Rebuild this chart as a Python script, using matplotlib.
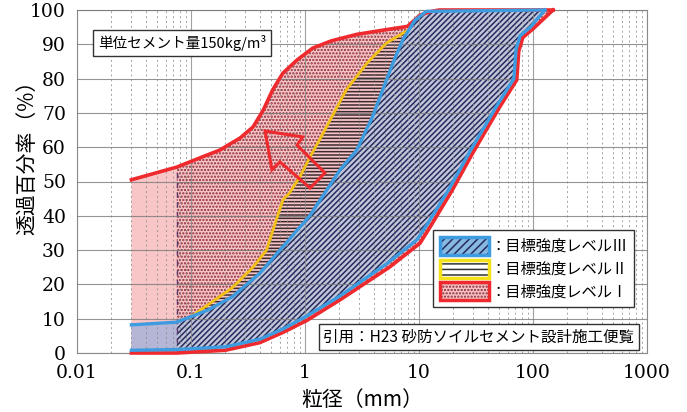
import matplotlib
matplotlib.use("Agg")
import matplotlib.pyplot as plt
import numpy as np
from matplotlib.patches import Patch, Polygon
from matplotlib.legend_handler import HandlerTuple
from matplotlib.ticker import FixedLocator, LogLocator, NullFormatter

plt.rcParams["font.family"] = ["Noto Sans CJK JP", "DejaVu Sans"]
plt.rcParams["hatch.linewidth"] = 1.1

# grading curves (particle size mm, passing %)
red_fine_x = [0.03, 0.075, 0.12, 0.18, 0.27, 0.35, 0.43, 0.52, 0.64, 0.85, 1.17, 1.7, 2.85,
              5.0, 7.9, 10.2, 12.5, 15, 150]
red_fine_y = [50.5, 54.2, 56.9, 59.2, 62.7, 65.9, 70.8, 76.7, 81.6, 85.4, 88.9, 91.0, 92.9,
              94.2, 95.2, 98.5, 99.5, 100, 100]
red_coarse_x = [0.03, 0.075, 0.2, 0.4, 0.64, 1.04, 2.03, 5.5, 10.2, 12.5, 19.6, 29.6, 51,
                72, 75, 81.5, 100, 150]
red_coarse_y = [0, 0, 0.8, 3, 6, 9.5, 15.5, 25, 32, 36.7, 47.5, 58.3, 71.7,
                79.6, 88, 92, 94.5, 100]

blue_fine_x = [0.03, 0.075, 0.14, 0.23, 0.4, 0.64, 1.1, 2.03, 2.85, 3.9, 4.8, 5.9, 7.2,
               9.2, 11.6, 127]
blue_fine_y = [8.2, 9, 12.5, 16.4, 23.2, 31, 40, 53.4, 59.2, 68.8, 76.7, 84.5, 91.3,
               97, 99.6, 100]
blue_coarse_x = [0.03, 0.075, 0.2, 0.4, 0.64, 1.0, 2.0, 5.2, 9.6, 11.8, 18.5, 28, 48,
                 68, 71, 77, 95, 127]
blue_coarse_y = [0.8, 1, 1.8, 4, 7, 10.5, 16.5, 26, 33, 37.5, 48, 58.8, 72,
                 80, 88.5, 92.5, 95, 100]

yellow_x = [0.1, 0.23, 0.35, 0.46, 0.56, 0.64, 0.73, 0.9, 1.1, 1.34, 1.7, 2.3, 3.5, 5.2, 7.9]
yellow_y = [10.6, 19, 25, 30, 38.8, 44.6, 46.6, 51.3, 57, 62.1, 68.5, 76.7, 84.5, 90.4, 94]

fine_limit = 0.075  # 75 um sieve

x_ticks = [0.01, 0.1, 1, 10, 100, 1000]
x_tick_labels = ["0.01", "0.1", "1", "10", "100", "1000"]
y_ticks = list(range(0, 101, 10))
legend_labels = ["：目標強度レベルⅢ", "：目標強度レベルⅡ", "：目標強度レベルⅠ"]

RED = "#ee2a2e"
BLUE = "#3d9be0"
YELLOW = "#f2c014"
NAVY = "#262b5e"
PINK = "#f8c6c6"


def band(fx, fy, cx, cy, xmin=None):
    fx, fy, cx, cy = map(np.asarray, (fx, fy, cx, cy))
    if xmin is not None:
        fm, cm = fx >= xmin, cx >= xmin
        fx, fy, cx, cy = fx[fm], fy[fm], cx[cm], cy[cm]
    xs = np.concatenate([fx, cx[::-1]])
    ys = np.concatenate([fy, cy[::-1]])
    return np.column_stack([xs, ys])


fig = plt.figure(figsize=(6.87, 4.12), dpi=100)
ax = fig.add_axes([77 / 687, 59 / 412, 570 / 687, 343 / 412])
ax.set_xscale("log")
ax.set_xlim(0.01, 1000)
ax.set_ylim(0, 100)

# level I (red)
ax.add_patch(Polygon(band(red_fine_x, red_fine_y, red_coarse_x, red_coarse_y),
                     facecolor=PINK, edgecolor="none", zorder=1))
ax.add_patch(Polygon(band(red_fine_x, red_fine_y, red_coarse_x, red_coarse_y, fine_limit),
                     facecolor="none", edgecolor="#8a2a3a", hatch=".....", lw=0, zorder=1.1))

# level II (yellow) - between yellow line and level III fine boundary
by = np.interp(np.log10(yellow_x[-1]), np.log10(blue_fine_x), blue_fine_y)
bfx, bfy = np.asarray(blue_fine_x), np.asarray(blue_fine_y)
m = (bfx > yellow_x[0]) & (bfx < yellow_x[-1])
ii_x = list(yellow_x) + [yellow_x[-1]] + list(bfx[m][::-1]) + [yellow_x[0]]
ii_y = list(yellow_y) + [by] + list(bfy[m][::-1]) + [yellow_y[0]]
ax.add_patch(Polygon(np.column_stack([ii_x, ii_y]), facecolor=PINK, edgecolor="none", zorder=1.2))
ax.add_patch(Polygon(np.column_stack([ii_x, ii_y]), facecolor="none", edgecolor="#3a2a30",
                     hatch="-----", lw=0, zorder=1.3))

# level III (blue)
ax.add_patch(Polygon(band(blue_fine_x, blue_fine_y, blue_coarse_x, blue_coarse_y),
                     facecolor="#b5b5d6", edgecolor="none", zorder=1.4))
ax.add_patch(Polygon(band(blue_fine_x, blue_fine_y, blue_coarse_x, blue_coarse_y, fine_limit),
                     facecolor="#c2c6da", edgecolor="none", zorder=1.5))
ax.add_patch(Polygon(band(blue_fine_x, blue_fine_y, blue_coarse_x, blue_coarse_y, fine_limit),
                     facecolor="none", edgecolor=NAVY, hatch="//////", lw=0, zorder=1.6))

ax.plot([fine_limit, fine_limit], [0, red_fine_y[1]], color="#5a3a6a", lw=1.0,
        ls=(0, (4, 3)), zorder=1.7)

# boundary lines
ax.plot(red_fine_x, red_fine_y, color=RED, lw=2.6, zorder=4, clip_on=False)
ax.plot(red_coarse_x, red_coarse_y, color=RED, lw=2.6, zorder=4, clip_on=False)
ax.plot(yellow_x, yellow_y, color=YELLOW, lw=2.0, zorder=4.5)
ax.plot(blue_fine_x, blue_fine_y, color=BLUE, lw=2.4, zorder=5, clip_on=False)
ax.plot(blue_coarse_x, blue_coarse_y, color=BLUE, lw=2.4, zorder=5, clip_on=False)

# arrow (hollow)
arrow = [(0.330, 0.647), (0.396, 0.630), (0.386, 0.606), (0.435, 0.525),
         (0.409, 0.481), (0.356, 0.557), (0.342, 0.534)]
ax.add_patch(Polygon(arrow, closed=True, transform=ax.transAxes, facecolor="none",
                     edgecolor=RED, lw=2.2, zorder=6, joinstyle="miter"))

# grid / axes
ax.xaxis.set_major_locator(FixedLocator(x_ticks))
ax.set_xticklabels(x_tick_labels)
ax.xaxis.set_minor_locator(LogLocator(base=10, subs=np.arange(2, 10)))
ax.xaxis.set_minor_formatter(NullFormatter())
ax.set_yticks(y_ticks)
ax.set_axisbelow(False)
ax.grid(axis="y", which="major", color="#7a7a7a", lw=0.8, alpha=0.8)
ax.grid(axis="x", which="major", color="#8a8a8a", lw=0.8, alpha=0.8)
ax.grid(axis="x", which="minor", color="#8a8a8a", lw=0.7, ls=(0, (2, 3)), alpha=0.8)
ax.tick_params(which="both", length=0)
ax.tick_params(axis="x", pad=8)
ax.tick_params(axis="y", pad=8)
for lab in ax.get_xticklabels() + ax.get_yticklabels():
    lab.set_fontfamily("DejaVu Serif")
    lab.set_fontsize(13.5)
for s in ax.spines.values():
    s.set_color("#8a8a8a")
    s.set_linewidth(0.8)

ax.set_xlabel("粒径（mm）", fontsize=15)
ax.xaxis.set_label_coords(0.5, -0.105)
ax.set_ylabel("透過百分率（%）", fontsize=15)
ax.yaxis.set_label_coords(-0.068, 0.585)

ax.text(0.184, 0.904, "単位セメント量150kg/m³", transform=ax.transAxes, fontsize=10.5,
        ha="center", va="center", zorder=7,
        bbox=dict(boxstyle="square,pad=0.35", fc="white", ec="#333333", lw=1.0))
ax.text(0.705, 0.047, "引用：H23 砂防ソイルセメント設計施工便覧", transform=ax.transAxes,
        fontsize=11.2, ha="center", va="center", zorder=7,
        bbox=dict(boxstyle="square,pad=0.28", fc="white", ec="#333333", lw=1.0))

# legend
h3 = (Patch(fc="#86b8e2", ec="none"), Patch(fc="none", ec=NAVY, hatch="////", lw=0),
      Patch(fc="none", ec=BLUE, lw=2.5))
h2 = (Patch(fc="white", ec="none"), Patch(fc="none", ec="#333333", hatch="---", lw=0),
      Patch(fc="none", ec="#f5e11a", lw=2.5))
h1 = (Patch(fc=PINK, ec="none"), Patch(fc="none", ec="#8a2a3a", hatch=".....", lw=0),
      Patch(fc="none", ec=RED, lw=2.5))
leg = ax.legend([h3, h2, h1], legend_labels,
                handler_map={tuple: HandlerTuple(ndivide=1, pad=0)},
                loc="lower right", bbox_to_anchor=(0.991, 0.111), fontsize=11,
                handlelength=3.2, handleheight=1.45, handletextpad=0.1, labelspacing=0.3,
                borderpad=0.45, fancybox=False, framealpha=1, edgecolor="#333333")
leg.get_frame().set_linewidth(1.0)
leg.set_zorder(7)

fig.savefig("out.png", dpi=100)
